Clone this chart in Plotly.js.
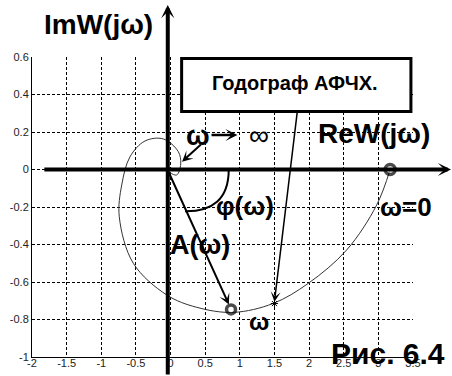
<!DOCTYPE html>
<html>
<head>
<meta charset="utf-8">
<script src="https://cdn.plot.ly/plotly-3.0.1.min.js"></script>
<style>
  html, body { margin: 0; padding: 0; background: #fff; }
  #chart { width: 452px; height: 376px; }
</style>
</head>
<body>
<div id="chart"></div>
<script>
// Hodograph of the frequency response W(jω): real and imaginary parts
const reW = [3.17, 2.976, 2.543, 1.989, 1.484, 0.906, 0.378, -0.055, -0.538, -0.74,
             -0.705, -0.585, -0.369, -0.104, 0.112, 0.147, 0.089, -0.03];
const imW = [0.0, -0.189, -0.429, -0.607, -0.714, -0.762, -0.735, -0.669, -0.50, -0.252,
             -0.083, 0.068, 0.152, 0.163, 0.095, 0.030, -0.029, -0.012];

// Marked points: ω = 0, the chosen ω (vector end) and the point on the curve
const startPt = [3.17, 0.0];
const vecEnd = [0.873, -0.746];
const starPt = [1.5, -0.715];

// Tick values and labels
const xTickVals = [-2, -1.5, -1, -0.5, 0, 0.5, 1, 1.5, 2, 2.5, 3, 3.5];
const xTickText = ['-2', '-1.5', '-1', '-0.5', '0', '0.5', '1', '1.5', '2', '2.5', '3', '3.5'];
const yTickVals = [-1, -0.8, -0.6, -0.4, -0.2, 0, 0.2, 0.4, 0.6];
const yTickText = ['-1', '-0.8', '-0.6', '-0.4', '-0.2', '0', '0.2', '0.4', '0.6'];

const FONT = 'Liberation Sans, Arial, sans-serif';

const traces = [
  {
    x: reW, y: imW, type: 'scatter', mode: 'lines',
    line: { color: '#333', width: 1, shape: 'spline', smoothing: 1 },
    hoverinfo: 'skip'
  },
  {
    x: [startPt[0], vecEnd[0]], y: [startPt[1], vecEnd[1]], type: 'scatter', mode: 'markers',
    marker: { symbol: 'circle', size: [10, 9], color: '#fff', line: { color: '#000', width: 3.5 } },
    cliponaxis: false, hoverinfo: 'skip'
  },
  {
    x: [starPt[0]], y: [starPt[1]], type: 'scatter', mode: 'markers',
    marker: { symbol: 'asterisk-open', size: 6, color: '#000', line: { color: '#000', width: 1 } },
    hoverinfo: 'skip'
  }
];

function label(text, x, y, size, opts) {
  return Object.assign({
    text: text, x: x, y: y, xref: 'x', yref: 'y', showarrow: false,
    xanchor: 'center', yanchor: 'middle',
    font: { family: FONT, size: size, color: '#000', weight: 'bold' }
  }, opts || {});
}

function arrow(x, y, ax, ay, width, size, head) {
  return {
    text: '', x: x, y: y, ax: ax, ay: ay, xref: 'x', yref: 'y', axref: 'x', ayref: 'y',
    showarrow: true, arrowhead: head, arrowwidth: width, arrowsize: size, arrowcolor: '#000',
    standoff: 0, startstandoff: 0
  };
}

const annotations = [
  // axis titles
  label('ImW(jω)', 0.175, 1.107, 28, { xref: 'paper', yref: 'paper' }),
  label('ReW(jω)', 2.94, 0.19, 28),
  // caption box text
  label('Годограф АФЧХ.', 1.80, 0.461, 20),
  // ω → ∞
  label('ω', 0.39, 0.184, 28),
  label('∞', 1.28, 0.184, 28, { font: { family: FONT, size: 28, color: '#000' } }),
  label('φ(ω)', 1.07, -0.195, 26),
  label('A(ω)', 0.43, -0.403, 27),
  label('ω=0', 3.40, -0.20, 26),
  label('ω', 1.28, -0.813, 24),
  label('Рис. 6.4', 0.934, 0.012, 30, { xref: 'paper', yref: 'paper' }),
  // arrows
  arrow(0.965, 0.184, 0.57, 0.184, 2.5, 0.8, 3),
  arrow(0.166, 0.042, 0.46, 0.14, 2, 0.9, 3),
  arrow(0.842, -0.72, -0.03, -0.012, 2, 0.9, 3),
  arrow(1.50, -0.705, 1.83, 0.31, 1.5, 1.1, 3),
  // coordinate axes with arrowheads
  {
    text: '', xref: 'paper', yref: 'y', x: 1.102, y: 0, axref: 'pixel', ayref: 'pixel', ax: -409, ay: 0,
    showarrow: true, arrowhead: 3, arrowwidth: 4, arrowsize: 0.55, arrowcolor: '#000', standoff: 0
  },
  {
    text: '', xref: 'x', yref: 'paper', x: -0.04, y: 1.173, axref: 'pixel', ayref: 'pixel', ax: 0, ay: 372,
    showarrow: true, arrowhead: 3, arrowwidth: 4, arrowsize: 0.55, arrowcolor: '#000', standoff: 0
  }
];

const shapes = [
  // caption box
  {
    type: 'rect', xref: 'x', yref: 'y', x0: 0.16, x1: 3.47, y0: 0.31, y1: 0.592,
    line: { color: '#000', width: 3 }, fillcolor: '#fff', layer: 'above'
  },
  // phase angle arc φ(ω)
  {
    type: 'path', xref: 'x', yref: 'y',
    path: 'M 0.84,0 C 0.84,-0.16 0.6,-0.225 0.21,-0.223',
    line: { color: '#000', width: 2 }, layer: 'above'
  }
];

const layout = {
  width: 452, height: 376,
  margin: { l: 32, r: 39, t: 57, b: 19, pad: 0 },
  paper_bgcolor: '#fff', plot_bgcolor: '#fff',
  showlegend: false,
  font: { family: FONT, size: 11, color: '#222' },
  xaxis: {
    range: [-2, 3.5], tickmode: 'array', tickvals: xTickVals, ticktext: xTickText,
    showgrid: true, gridcolor: '#000', gridwidth: 1, griddash: '3px,2px',
    zeroline: false, showline: true, linecolor: '#000', linewidth: 1, ticks: '',
    ticklabelstandoff: -4,
    tickfont: { family: FONT, size: 11, color: '#222' }, fixedrange: true
  },
  yaxis: {
    range: [-1, 0.6], tickmode: 'array', tickvals: yTickVals, ticktext: yTickText,
    showgrid: true, gridcolor: '#000', gridwidth: 1, griddash: '3px,2px',
    zeroline: false, showline: true, linecolor: '#000', linewidth: 1, ticks: '',
    tickfont: { family: FONT, size: 11, color: '#222' }, fixedrange: true
  },
  annotations: annotations,
  shapes: shapes
};

Plotly.newPlot('chart', traces, layout, { displayModeBar: false, staticPlot: true });
</script>
</body>
</html>
